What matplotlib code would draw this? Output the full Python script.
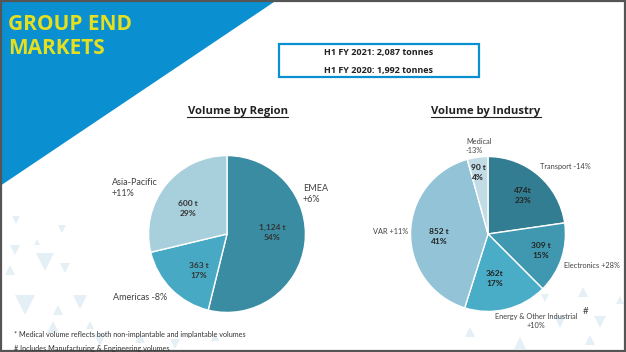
import matplotlib.pyplot as plt
from matplotlib.patches import Polygon, Rectangle
from matplotlib.lines import Line2D

W, H = 626, 352

# data
region_names = ["EMEA", "Americas", "Asia-Pacific"]
region_tonnes = [1124, 363, 600]
region_pct = [54, 17, 29]
region_change = ["+6%", "-8%", "+11%"]

industry_names = ["Transport", "Electronics", "Energy & Other Industrial", "VAR", "Medical"]
industry_tonnes = [474, 309, 362, 852, 90]
industry_pct = [23, 15, 17, 41, 4]
industry_change = ["-14%", "+28%", "+10%", "+11%", "-13%"]

totals = [("H1 FY 2021", "2,087"), ("H1 FY 2020", "1,992")]

region_colors = ["#3a8ca3", "#48a9c4", "#a8cfdc"]
industry_colors = ["#337d92", "#3f98b0", "#4aadc7", "#93c3d6", "#c2dce6"]

BLUE = "#0a8fd0"
YELLOW = "#e4e01f"
TXT = "#404040"

fig = plt.figure(figsize=(W / 100, H / 100), dpi=100)
fig.patch.set_facecolor("white")

bg = fig.add_axes([0, 0, 1, 1])
bg.set_xlim(0, W)
bg.set_ylim(H, 0)
bg.axis("off")

# faint background triangles (x, y, size, pointing down?)
tri_spots = [(16, 220, 4, True), (62, 229, 4, True), (15, 250, 5, True), (45, 262, 9, True),
             (65, 268, 5, True), (25, 305, 10, True), (80, 302, 7, True), (10, 270, 5, False),
             (58, 310, 5, False), (53, 327, 6, False), (90, 325, 4, False), (37, 242, 3, False),
             (100, 340, 6, True), (140, 338, 5, False), (175, 344, 5, True), (215, 337, 4, False),
             (470, 332, 5, False), (505, 300, 4, False), (520, 343, 6, False), (560, 322, 6, True),
             (583, 292, 5, False), (600, 322, 6, True), (545, 298, 4, True), (620, 300, 4, False),
             (590, 340, 5, False)]
for tx, ty, ts, down in tri_spots:
    if down:
        pts = [(tx - ts, ty - ts), (tx + ts, ty - ts), (tx, ty + ts)]
    else:
        pts = [(tx - ts, ty + ts), (tx + ts, ty + ts), (tx, ty - ts)]
    bg.add_patch(Polygon(pts, closed=True, fc="#e5f0f6", ec="none", zorder=0))

bg.add_patch(Polygon([(0, 0), (277, 0), (0, 186)], closed=True, fc=BLUE, ec="none"))
bg.add_patch(Rectangle((279, 44), 200, 33, fc="white", ec=BLUE, lw=1.6))
bg.add_patch(Rectangle((0.8, 0.8), W - 1.6, H - 1.6, fc="none", ec="#555555", lw=1.6, zorder=5))


def px_text(x, y, s, **kw):
    kw.setdefault("family", ["Lato", "DejaVu Sans"])
    kw.setdefault("color", TXT)
    return fig.text(x / W, 1 - y / H, s, **kw)


def pie_axes(cx, cy, r):
    ax = fig.add_axes([(cx - r) / W, 1 - (cy + r) / H, 2 * r / W, 2 * r / H])
    return ax


# title
px_text(8, 25, "GROUP END", fontsize=15, weight="bold", color=YELLOW,
        family=["Open Sans", "DejaVu Sans"], va="center")
px_text(8, 48, "MARKETS", fontsize=15, weight="bold", color=YELLOW,
        family=["Open Sans", "DejaVu Sans"], va="center")

for i, (lab, val) in enumerate(totals):
    px_text(379, 53 + i * 17, f"{lab}: {val} tonnes", fontsize=6.5, weight="bold",
            color="#222222", family=["Open Sans", "DejaVu Sans"], ha="center", va="center")

# left pie
ax1 = pie_axes(227, 234, 80)
ax1.pie(region_tonnes, colors=region_colors, startangle=90, counterclock=False,
        radius=1, wedgeprops=dict(edgecolor="white", linewidth=1))
ax1.set_xlim(-1.02, 1.02)
ax1.set_ylim(-1.02, 1.02)

# right pie
ax2 = pie_axes(488, 234, 79)
ax2.pie(industry_tonnes, colors=industry_colors, startangle=90, counterclock=False,
        radius=1, wedgeprops=dict(edgecolor="white", linewidth=1))
ax2.set_xlim(-1.02, 1.02)
ax2.set_ylim(-1.02, 1.02)

# headings with underline
fig.canvas.draw()
renderer = fig.canvas.get_renderer()
for hx, htxt in [(237.5, "Volume by Region"), (486, "Volume by Industry")]:
    t = px_text(hx, 111, htxt, fontsize=8.1, weight="bold", color="#222222",
                family=["Open Sans", "DejaVu Sans"], ha="center", va="center")
    bb = t.get_window_extent(renderer)
    yline = 1 - 117.5 / H
    fig.add_artist(Line2D([bb.x0 / W, bb.x1 / W], [yline, yline], color="#222222", lw=0.8))

# region labels
region_inner = [(272, 232), (199, 271), (188, 209)]
for (x, y), t, p in zip(region_inner, region_tonnes, region_pct):
    px_text(x, y, f"{t:,} t\n{p}%", fontsize=6, weight="bold", ha="center", va="center",
            linespacing=1.5, color="#333333")

px_text(303, 194, f"{region_names[0]}\n{region_change[0]}", fontsize=6.5, va="center", linespacing=1.4)
px_text(113, 298, f"{region_names[1]} {region_change[1]}", fontsize=6.5, va="center")
px_text(112, 188, f"{region_names[2]}\n{region_change[2]}", fontsize=6.5, va="center", linespacing=1.4)

# industry labels
industry_inner = [(523, 196), (541, 251), (495, 279), (439, 236), (478, 172)]
for i, ((x, y), t, p) in enumerate(zip(industry_inner, industry_tonnes, industry_pct)):
    unit = "t" if i in (0, 2) else " t"
    px_text(x, y, f"{t}{unit}\n{p}%", fontsize=6, weight="bold", ha="center", va="center",
            linespacing=1.5, color="#222222")

small = 5.3
px_text(540, 167, f"{industry_names[0]} {industry_change[0]}", fontsize=small, va="center")
px_text(564, 265, f"{industry_names[1]} {industry_change[1]}", fontsize=small, va="center")
px_text(495, 316, industry_names[2], fontsize=small, va="center")
px_text(583, 311, "#", fontsize=7, va="center")
px_text(536, 326, industry_change[2], fontsize=small, va="center", ha="center")
px_text(373, 231, f"{industry_names[3]} {industry_change[3]}", fontsize=small, va="center")
px_text(466, 146, f"{industry_names[4]}\n{industry_change[4]}", fontsize=small, va="center",
        linespacing=1.4)

# footnotes
px_text(14, 334, "* Medical volume reflects both non-implantable and implantable volumes",
        fontsize=5.2, va="center", color="#333333")
px_text(14, 349, "# Includes Manufacturing & Engineering volumes",
        fontsize=5.2, va="center", color="#333333")

fig.savefig("out.png", dpi=100)
